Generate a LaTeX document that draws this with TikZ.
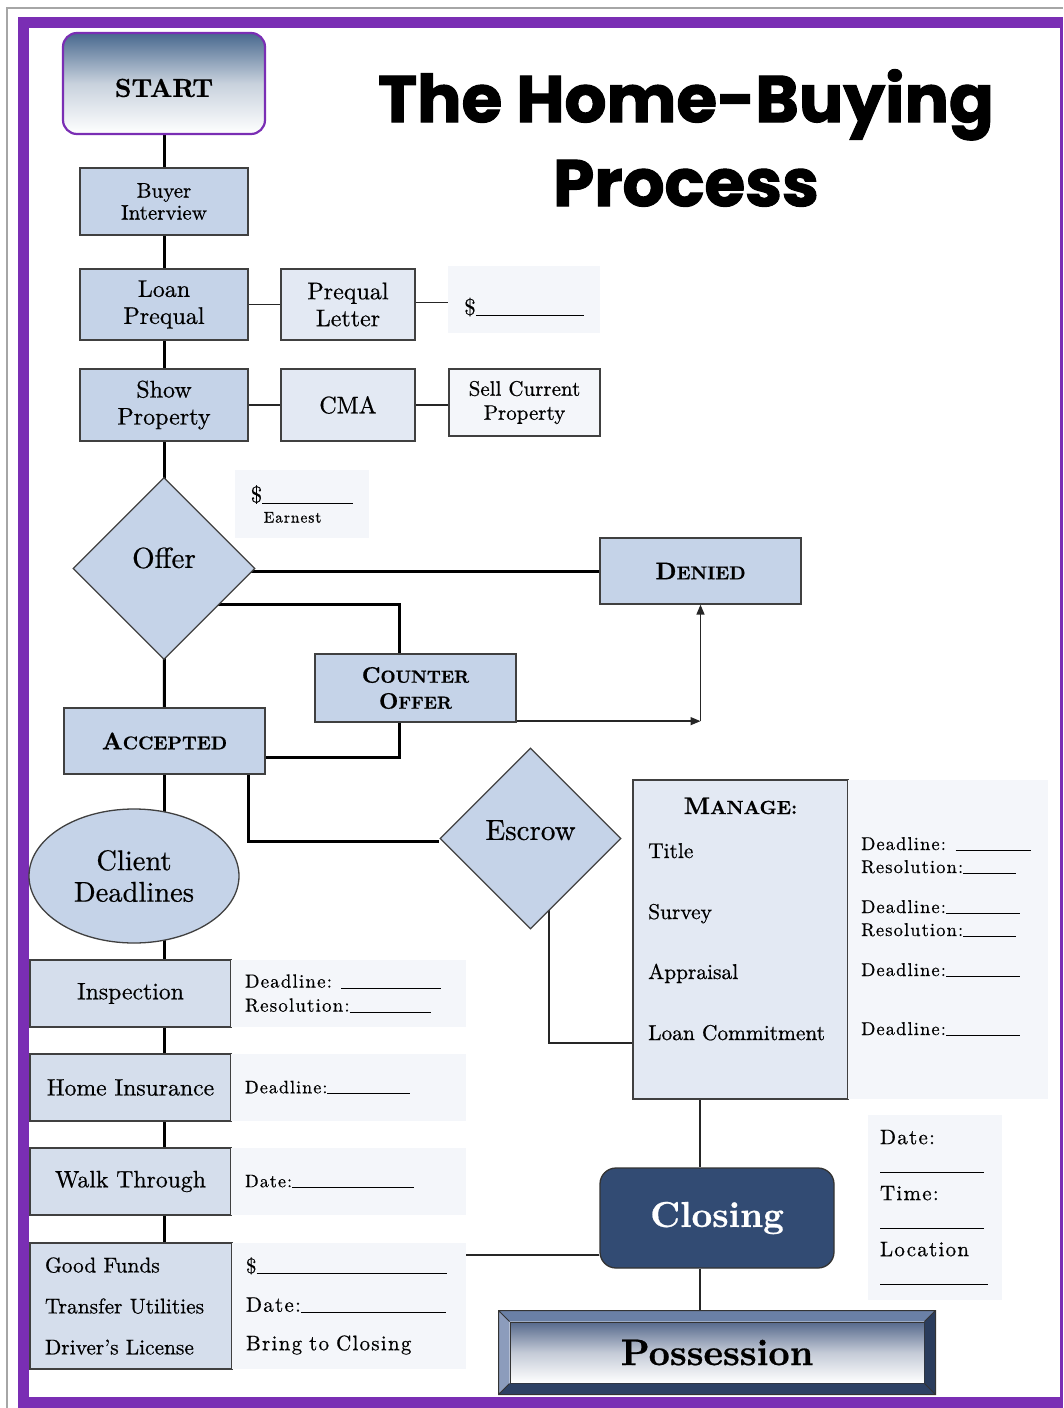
\documentclass[tikz,border=0pt]{standalone}
\usepackage{fontspec}
\setmainfont{lmroman10-regular.otf}[FakeBold=0.6, BoldFont=lmroman10-bold.otf,
    ItalicFont=lmroman10-italic.otf, BoldItalicFont=lmroman10-bolditalic.otf]
\newfontfamily\spacedfont{lmroman10-regular.otf}[LetterSpace=6, FakeBold=0.6]
\newfontfamily\titlefont{Poppins}[FakeBold=1.6]
\usetikzlibrary{arrows.meta, shapes.geometric, backgrounds}

% Colors
\definecolor{framepurple}{RGB}{122,46,180}
\definecolor{boxblue}{RGB}{197,211,232}
\definecolor{paleblue}{RGB}{227,233,243}
\definecolor{stepblue}{RGB}{213,222,236}
\definecolor{infogray}{RGB}{244,246,250}
\definecolor{startblue}{RGB}{72,104,142}
\definecolor{possblue}{RGB}{86,105,140}
\definecolor{closingnavy}{RGB}{50,75,115}
\definecolor{beveltop}{RGB}{106,128,166}
\definecolor{bevelleft}{RGB}{140,156,188}
\definecolor{bevelright}{RGB}{42,60,92}
\definecolor{bevelbottom}{RGB}{45,65,100}
\definecolor{edgegray}{RGB}{64,64,64}

% blank to fill in, hand-made small caps, text moved off centre
\newcommand{\writeline}[1]{\rule[-1pt]{#1pt}{0.9pt}}
\newcommand{\fakesc}[3]{#2{\fontsize{#1}{#1}\selectfont #3}}
\newcommand{\offcentre}[2]{\raisebox{#1}[0pt][0pt]{#2}}

\tikzset{
    outlined/.style={draw=edgegray, line width=1.3pt, inner sep=0pt, align=center},
    flowbox/.style={outlined, rectangle, fill=boxblue, font=\fontsize{24}{27}\selectfont},
    sidebox/.style={flowbox, fill=paleblue},
    stagebox/.style={flowbox, fill=stepblue, font=\fontsize{23.7}{29}\selectfont},
    verdict/.style={flowbox, font=\fontsize{24}{27}\selectfont\bfseries},
    decision/.style={outlined, diamond, fill=boxblue, shape aspect=1,
        minimum width=182, minimum height=182, font=\fontsize{29}{32}\selectfont},
    infobox/.style={rectangle, fill=infogray, inner sep=0pt, align=left},
    infotext/.style={font=\spacedfont\fontsize{19}{24}\selectfont},
    itemtext/.style={inner sep=0pt, font=\fontsize{21.4}{27}\selectfont},
    mainline/.style={line width=3pt, black},
    thinline/.style={line width=1.5pt, black!85},
    tip/.style={-{Triangle[length=10pt, width=8pt]}}
}

\begin{document}
\begin{tikzpicture}[x=1pt, y=-1pt]
    \useasboundingbox (0,0) rectangle (1063,1408);

    % Frame
    \begin{pgfonlayer}{background}
        \draw[gray!70, line width=1.5pt] (7,1408) -- (7,8) -- (1063,8);
        \fill[framepurple] (18,17) rectangle (1063,1408);
        \fill[white] (29,28) rectangle (1060,1397);
    \end{pgfonlayer}

    % Title
    \node[font=\titlefont\bfseries\fontsize{66}{84}\selectfont, align=center] (title) at (686,138)
      {The Home-Buying\\Process};

    % Main column
    \node[outlined, draw=framepurple, line width=2.2pt, rounded corners=14pt,
          top color=startblue, bottom color=white, middle color=startblue!30,
          minimum width=202, minimum height=101, font=\fontsize{26}{30}\selectfont\bfseries]
          (start) at (164,83.5) {\offcentre{-13.4pt}{START}};
    \node[flowbox, minimum width=168, minimum height=67, font=\fontsize{21}{22}\selectfont]
          (buyer) at (164,201.5) {Buyer\\Interview};
    \node[flowbox, minimum width=168, minimum height=71] (loan) at (164,304.5) {Loan\\Prequal};
    \node[sidebox, minimum width=134, minimum height=71] (letter) at (348,304.5) {Prequal\\Letter};
    \node[infobox, minimum width=152, minimum height=67, font=\fontsize{23}{26}\selectfont]
          (prequalamt) at (524,299.5) {\offcentre{-15.5pt}{\$\writeline{108}}};
    \node[flowbox, minimum width=168, minimum height=72] (show) at (164,405) {Show\\Property};
    \node[sidebox, minimum width=134, minimum height=72] (cma) at (348,405) {CMA};
    \node[sidebox, fill=infogray, minimum width=151, minimum height=67, font=\fontsize{21}{24}\selectfont]
          (sell) at (524.5,402.5) {Sell Current\\Property};
    \node[infobox, minimum width=134, minimum height=68, font=\fontsize{23}{22}\selectfont]
          (earnest) at (302,504)
          {\$\writeline{91}\\[-2pt]\hspace*{13pt}{\spacedfont\fontsize{15.5}{15}\selectfont Earnest}};

    % Offer and outcomes
    \node[decision] (offer) at (164,568.5) {\offcentre{0.6pt}{Offer}};
    \node[verdict, minimum width=201, minimum height=66] (denied) at (700.5,571) {\fakesc{18.5}{D}{ENIED}};
    \node[verdict, minimum width=201, minimum height=68, font=\fontsize{22.5}{26}\selectfont\bfseries]
          (counter) at (415.5,688) {\fakesc{17.5}{C}{OUNTER}\\\fakesc{17.5}{O}{FFER}};
    \node[verdict, minimum width=201, minimum height=66] (accepted) at (164.5,741) {\fakesc{18.5}{A}{CCEPTED}};
    \node[decision, minimum width=181, minimum height=181] (escrow) at (530.5,838.5) {\offcentre{-1.4pt}{Escrow}};

    % Client deadlines
    \node[outlined, ellipse, fill=boxblue, minimum width=210, minimum height=134,
          font=\fontsize{28.5}{31.5}\selectfont] (client) at (134,876) {Client\\Deadlines};
    \node[stagebox, minimum width=201, minimum height=67] (inspect) at (130.5,993.5) {Inspection};
    \node[infobox, infotext, minimum width=235, minimum height=67, text width=207]
          (inspectinfo) at (348.5,993.5) {Deadline: \writeline{100}\\Resolution:\writeline{81}};
    \node[stagebox, minimum width=201, minimum height=67] (insure) at (130.5,1087.5) {Home Insurance};
    \node[infobox, minimum width=235, minimum height=67, text width=207,
          font=\spacedfont\fontsize{18}{22}\selectfont]
          (insureinfo) at (348.5,1087.5) {Deadline:\writeline{83}};
    \node[stagebox, minimum width=201, minimum height=67] (walk) at (130.5,1181.5) {Walk Through};
    \node[infobox, minimum width=235, minimum height=67, text width=207,
          font=\spacedfont\fontsize{18}{22}\selectfont]
          (walkinfo) at (348.5,1181.5) {Date:\writeline{122}};
    \node[stagebox, align=left, minimum width=202, minimum height=126, text width=172,
          font=\fontsize{21.4}{41}\selectfont] (funds) at (131,1306)
          {Good Funds\\Transfer Utilities\\Driver's License};
    \node[infobox, minimum width=234, minimum height=126, text width=206,
          font=\spacedfont\fontsize{21}{38.5}\selectfont] (fundsinfo) at (349,1306)
          {\$\writeline{190}\\Date:\writeline{145}\\Bring to Closing};

    % Manage
    \node[sidebox, minimum width=215, minimum height=319] (manage) at (740.5,939.5) {};
    \node[anchor=base, inner sep=0pt, font=\fontsize{24}{27}\selectfont\bfseries]
          (managehead) at (740.5,814) {\fakesc{19}{M}{ANAGE:}};
    \foreach \yy/\txt [count=\i] in {858/Title, 919/Survey, 979/Appraisal, 1040/Loan Commitment}
        \node[itemtext, anchor=base west] (item\i) at (648,\yy) {\txt};
    \node[infobox, minimum width=200, minimum height=319] (manageinfo) at (948,939.5) {};
    \foreach \yy/\txt [count=\i] in {850/{Deadline: \writeline{75}}, 873/{Resolution:\writeline{53}},
                                     913/{Deadline:\writeline{74}}, 936/{Resolution:\writeline{53}},
                                     976/{Deadline:\writeline{74}}, 1035/{Deadline:\writeline{74}}}
        \node[infotext, inner sep=0pt, anchor=base west, font=\spacedfont\fontsize{18.5}{22}\selectfont]
              (due\i) at (861,\yy) {\txt};

    % Closing and possession
    \node[outlined, rounded corners=16pt, fill=closingnavy, draw=black!80, text=white,
          minimum width=234, minimum height=100, font=\fontsize{36}{40}\selectfont\bfseries]
          (closing) at (717,1218) {Closing};
    \node[infobox, infotext, minimum width=134, minimum height=185, text width=110,
          font=\spacedfont\fontsize{21}{28}\selectfont] (schedule) at (935,1207.5)
          {Date:\\\writeline{104}\\Time:\\\writeline{104}\\Location\\\writeline{108}};
    \node[outlined, draw=black!80, line width=1pt, top color=possblue, bottom color=white,
          middle color=possblue!35, minimum width=414, minimum height=61,
          font=\fontsize{37}{40}\selectfont\bfseries] (possession) at (717,1352.5) {Possession};
    \coordinate (pnw) at ([xshift=-11pt, yshift=11pt]possession.north west);
    \coordinate (pne) at ([xshift=11pt, yshift=11pt]possession.north east);
    \coordinate (psw) at ([xshift=-11pt, yshift=-11pt]possession.south west);
    \coordinate (pse) at ([xshift=11pt, yshift=-11pt]possession.south east);
    \fill[beveltop] (pnw) -- (pne) -- (possession.north east) -- (possession.north west) -- cycle;
    \fill[bevelleft] (pnw) -- (possession.north west) -- (possession.south west) -- (psw) -- cycle;
    \fill[bevelright] (pne) -- (possession.north east) -- (possession.south east) -- (pse) -- cycle;
    \fill[bevelbottom] (psw) -- (possession.south west) -- (possession.south east) -- (pse) -- cycle;
    \draw[black!80, line width=1pt] (pnw) rectangle (pse)
        (pnw) -- (possession.north west) (pne) -- (possession.north east)
        (psw) -- (possession.south west) (pse) -- (possession.south east);

    % Connectors
    \coordinate (bend) at (denied.south |- counter.south);
    \coordinate (lane) at ([xshift=-17pt]closing.center);
    \begin{pgfonlayer}{background}
        \draw[mainline] (start.south) -- (buyer.north);
        \draw[mainline] (buyer.south) -- (loan.north);
        \draw[mainline] (loan.south) -- (show.north);
        \draw[mainline] (show.south) -- (offer.center);
        \draw[mainline] (offer.center) -- (accepted.north);
        \draw[mainline] (offer.center |- denied.west) -- (denied.west);
        \draw[mainline] ([yshift=-35.5pt]offer.center) -| ([xshift=-16.5pt]counter.north);
        \draw[mainline] ([xshift=-16.5pt]counter.south) |- ([yshift=-16pt]accepted.east);
        \draw[mainline] ([xshift=83.5pt]accepted.south) |- ([yshift=-2.5pt]escrow.west);
        \draw[mainline] (accepted.south) -- (accepted.south |- client.center);
        \foreach \a/\b in {client/inspect, inspect/insure, insure/walk, walk/funds}
            \draw[mainline] (\a.center -| accepted.south) -- (\b.north -| accepted.south);

        \draw[thinline] (loan.east) -- (letter.west);
        \draw[thinline] ([yshift=2pt]letter.east) -- ([yshift=2pt]letter.east -| prequalamt.west);
        \draw[thinline] (show.east) -- (cma.west);
        \draw[thinline] (cma.east) -- (cma.east -| sell.west);
        \draw[thinline, tip] ([yshift=1.5pt]counter.south east) -- ([yshift=1.5pt]bend);
        \draw[thinline, tip] ([yshift=1.5pt]bend) -- (denied.south);
        \draw[thinline] ([xshift=18.5pt]escrow.center) |- ([yshift=-103.5pt]manage.west);
        \draw[thinline] (manage.south -| lane) -- (closing.north -| lane);
        \draw[thinline] (closing.south -| lane) -- (pnw -| lane);
        \draw[thinline] ([yshift=-37pt]closing.west) -- ([yshift=-37pt]closing.west -| fundsinfo.east);
    \end{pgfonlayer}
\end{tikzpicture}
\end{document}
